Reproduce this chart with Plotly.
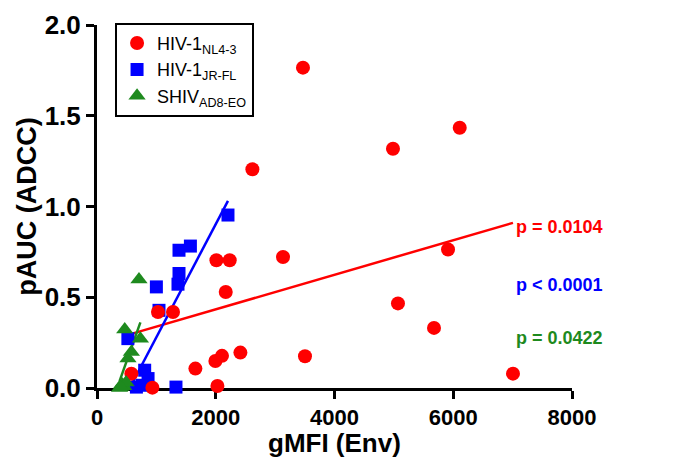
import plotly.graph_objects as go

# ---- data ----
nl43_x = [3469, 4985, 6109, 2617, 2011, 2235, 3133, 5912, 2168, 1027, 1280,
          5069, 5676, 2415, 1994, 2105, 3503, 1657, 2028, 933, 579, 7006]
nl43_y = [1.765, 1.318, 1.434, 1.205, 0.704, 0.704, 0.722, 0.763, 0.529, 0.419, 0.419,
          0.466, 0.331, 0.195, 0.149, 0.177, 0.175, 0.107, 0.011, 0.002, 0.079, 0.079]

jrfl_x = [2206, 1381, 1573, 1381, 1364, 1000, 1044, 520, 803, 860, 664, 760, 1330]
jrfl_y = [0.953, 0.759, 0.782, 0.631, 0.572, 0.557, 0.428, 0.272, 0.098, 0.052, 0.005, 0.015, 0.005]

shiv_x = [707, 467, 731, 579, 522, 420, 380, 450, 490, 400]
shiv_y = [0.598, 0.322, 0.272, 0.199, 0.162, 0.020, 0.000, 0.010, 0.030, 0.005]

# regression line end points
fit_nl43_x = [579, 7006]
fit_nl43_y = [0.298, 0.910]
fit_jrfl_x = [551, 2206]
fit_jrfl_y = [0.0, 1.031]
fit_shiv_x = [380, 731]
fit_shiv_y = [0.038, 0.362]

p_labels = ["p = 0.0104", "p < 0.0001", "p = 0.0422"]
p_label_y = [0.886, 0.567, 0.274]
p_label_x = 7030

x_ticks = [0, 2000, 4000, 6000, 8000]
y_ticks = [0.0, 0.5, 1.0, 1.5, 2.0]

x_title = "gMFI (Env)"
y_title = "pAUC (ADCC)"

RED = "#ff0000"
BLUE = "#0000ff"
GREEN = "#1e8a1e"
FONT = "Liberation Sans"

fig = go.Figure()

for fx, fy, c in [(fit_nl43_x, fit_nl43_y, RED), (fit_jrfl_x, fit_jrfl_y, BLUE),
                  (fit_shiv_x, fit_shiv_y, GREEN)]:
    fig.add_trace(go.Scatter(x=fx, y=fy, mode="lines", line=dict(color=c, width=2.5),
                             showlegend=False, hoverinfo="skip"))

# draw order: blue squares, red circles, green triangles; legend order via legendrank
fig.add_trace(go.Scatter(x=jrfl_x, y=jrfl_y, mode="markers", name="HIV-1<sub>JR-FL</sub>",
                         marker=dict(symbol="square", size=13, color=BLUE, line=dict(width=0)),
                         cliponaxis=False, legendrank=2))
fig.add_trace(go.Scatter(x=nl43_x, y=nl43_y, mode="markers", name="HIV-1<sub>NL4-3</sub>",
                         marker=dict(symbol="circle", size=14, color=RED, line=dict(width=0)),
                         cliponaxis=False, legendrank=1))
fig.add_trace(go.Scatter(x=shiv_x, y=shiv_y, mode="markers", name="SHIV<sub>AD8-EO</sub>",
                         marker=dict(symbol="triangle-up", size=15, color=GREEN, line=dict(width=0)),
                         cliponaxis=False, legendrank=3))

for txt, yv, c in zip(p_labels, p_label_y, [RED, BLUE, GREEN]):
    fig.add_annotation(x=p_label_x, y=yv, text=txt, showarrow=False, xanchor="left",
                       yanchor="middle", font=dict(family=FONT, size=18, color=c, weight="bold"))

# x-axis title placed as a paper annotation just below the tick labels
fig.add_annotation(x=0.5, y=-0.152, xref="paper", yref="paper", text=x_title,
                   showarrow=False, xanchor="center", yanchor="middle",
                   font=dict(family=FONT, size=26, color="black", weight="bold"))

# page body has an 8px margin; margins compensate so plot sits at x 97..572, y 25..388
fig.update_layout(
    width=682, height=458,
    margin=dict(l=89, r=118, t=17, b=78),
    paper_bgcolor="white", plot_bgcolor="white",
    font=dict(family=FONT, color="black"),
    legend=dict(x=0.038, y=1.006, xanchor="left", yanchor="top",
                bordercolor="black", borderwidth=2, bgcolor="white",
                font=dict(family=FONT, size=18, color="black"),
                traceorder="normal", itemwidth=30),
    xaxis=dict(range=[0, 8000], tickvals=x_ticks, ticktext=[str(v) for v in x_ticks],
               showgrid=False, zeroline=False, showline=True, linecolor="black", linewidth=3,
               ticks="outside", ticklen=8, tickwidth=3, tickcolor="black", automargin=False,
               tickfont=dict(family=FONT, size=22, weight="bold"), layer="below traces"),
    yaxis=dict(range=[0, 2], tickvals=y_ticks, ticktext=["%.1f" % v for v in y_ticks],
               showgrid=False, zeroline=False, showline=True, linecolor="black", linewidth=3,
               ticks="outside", ticklen=8, tickwidth=3, tickcolor="black", automargin=False,
               tickfont=dict(family=FONT, size=26, weight="bold"), layer="below traces",
               title=dict(text=y_title, font=dict(family=FONT, size=27, weight="bold"),
                          standoff=1)),
)

fig.write_html("out.html")
